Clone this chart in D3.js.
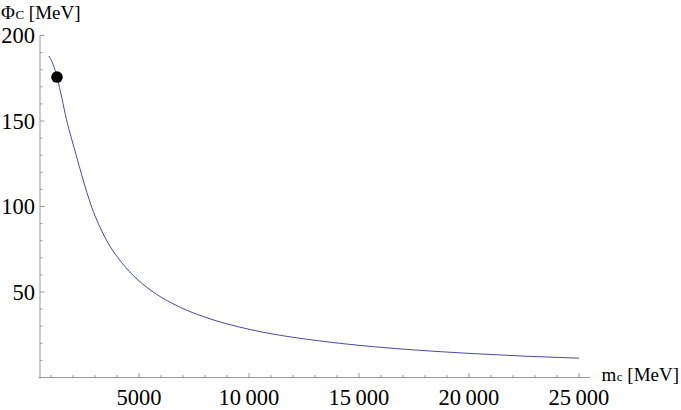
<!DOCTYPE html>
<html><head><meta charset="utf-8">
<script src="https://cdn.jsdelivr.net/npm/d3@7"></script>
<style>body{margin:0;background:#fff}svg{display:block}text{font-family:"Liberation Serif","DejaVu Serif",serif;fill:#000}</style>
</head><body>
<svg id="c" width="681" height="410"></svg>
<script>
// data
const massMeV = [900, 1100, 1273, 1500, 1700, 1927, 2155, 2395, 2636, 2941, 3259, 3668, 4045, 4727, 5636, 6900, 8000, 10000, 12000, 13214, 15000, 17000, 20000, 22500, 25000];
const phiMeV  = [188, 183, 175.7, 163, 151, 140, 129.5, 118.5, 108, 96.5, 87, 77, 70, 59.8, 50.1, 40.9, 35.3, 28.2, 23.5, 21.4, 18.8, 16.6, 14.1, 12.5, 11.3];
const pointMass = [1273];
const pointPhi = [175.7];
const xMajorTicks = [5000, 10000, 15000, 20000, 25000];
const xTickLabels = ["5000", "10\u2009000", "15\u2009000", "20\u2009000", "25\u2009000"];
const yMajorTicks = [50, 100, 150, 200];
const yTickLabels = ["50", "100", "150", "200"];

const svg = d3.select("#c");
const x = d3.scaleLinear().domain([500, 25500]).range([40, 590]);
const y = d3.scaleLinear().domain([0, 200]).range([377.5, 35.5]);
const axisColor = "#999";

// axes lines
svg.append("line").attr("x1", x(500) - 1.5).attr("x2", x(25500)).attr("y1", y(0)).attr("y2", y(0))
  .attr("stroke", axisColor).attr("stroke-width", 1);
svg.append("line").attr("x1", x(500)).attr("x2", x(500)).attr("y1", y(0) + 1).attr("y2", y(200))
  .attr("stroke", axisColor).attr("stroke-width", 1);

// x ticks
const xMinor = d3.range(1000, 25001, 1000).filter(v => !xMajorTicks.includes(v));
svg.selectAll(".xmin").data(xMinor).join("line")
  .attr("x1", d => x(d)).attr("x2", d => x(d)).attr("y1", y(0)).attr("y2", y(0) - 2.5)
  .attr("stroke", axisColor);
svg.selectAll(".xmaj").data(xMajorTicks).join("line")
  .attr("x1", d => x(d)).attr("x2", d => x(d)).attr("y1", y(0)).attr("y2", y(0) - 4.5)
  .attr("stroke", axisColor);
svg.selectAll(".xlab").data(xMajorTicks).join("text")
  .attr("x", d => x(d)).attr("y", 405).attr("text-anchor", "middle")
  .style("font-size", "22.5px").text((d, i) => xTickLabels[i]);

// y ticks
const yMinor = d3.range(10, 201, 10).filter(v => !yMajorTicks.includes(v));
svg.selectAll(".ymin").data(yMinor).join("line")
  .attr("x1", x(500)).attr("x2", x(500) + 2.5).attr("y1", d => y(d)).attr("y2", d => y(d))
  .attr("stroke", axisColor);
svg.selectAll(".ymaj").data(yMajorTicks).join("line")
  .attr("x1", x(500)).attr("x2", x(500) + 4.5).attr("y1", d => y(d)).attr("y2", d => y(d))
  .attr("stroke", axisColor);
svg.selectAll(".ylab").data(yMajorTicks).join("text")
  .attr("x", 35).attr("y", d => y(d)).attr("dy", "0.34em").attr("text-anchor", "end")
  .style("font-size", "22.5px").text((d, i) => yTickLabels[i]);

// curve
const pts = massMeV.map((m, i) => [m, phiMeV[i]]);
svg.append("path").datum(pts)
  .attr("d", d3.line().x(d => x(d[0])).y(d => y(d[1])).curve(d3.curveMonotoneX))
  .attr("fill", "none").attr("stroke", "#4a4aa8").attr("stroke-width", 1);

// point
svg.selectAll(".pt").data(pointMass).join("circle")
  .attr("cx", d => x(d)).attr("cy", (d, i) => y(pointPhi[i])).attr("r", 5.8).attr("fill", "#000");

// axis labels built from pieces placed side by side: [text, size, gap before]
function label(x0, yb, parts) {
  let cx = x0;
  parts.forEach(p => {
    cx += p[2];
    const t = svg.append("text").attr("x", cx).attr("y", yb).style("font-size", p[1] + "px").text(p[0]);
    cx += t.node().getComputedTextLength();
  });
}
label(1, 19, [["\u03A6", 19, 0], ["C", 13, 0.5], ["[MeV]", 19, 4.8]]);
label(601.5, 380.5, [["m", 19, 0], ["c", 13, 0.5], ["[MeV]", 19, 4.8]]);
</script>
</body></html>
